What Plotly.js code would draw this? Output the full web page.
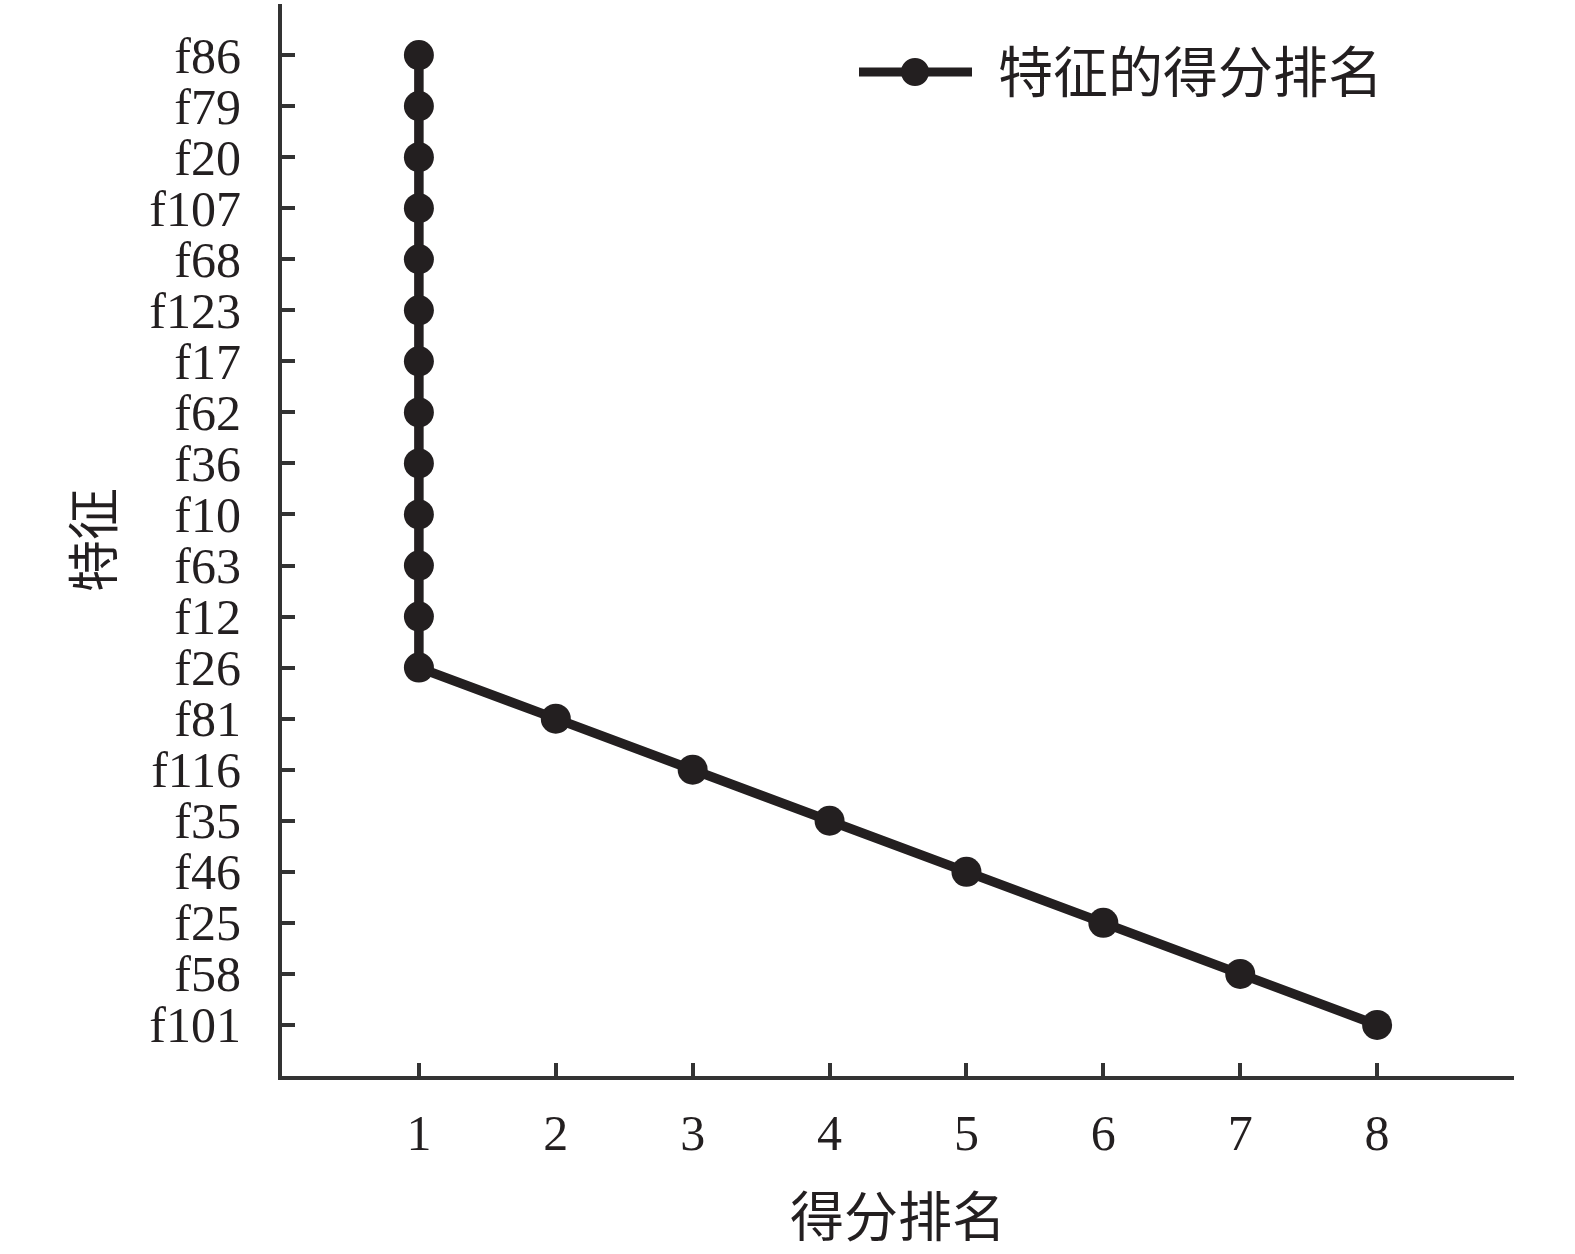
<!DOCTYPE html>
<html>
<head>
<meta charset="utf-8">
<script src="https://cdn.plot.ly/plotly-3.0.1.min.js"></script>
<style>
  html, body { margin: 0; padding: 0; background: #ffffff; }
  #chart { width: 1575px; height: 1254px; }
</style>
</head>
<body>
<div id="chart"></div>
<script>
// Features (top to bottom) and their score rank
const features = ["f86", "f79", "f20", "f107", "f68", "f123", "f17", "f62", "f36", "f10",
                  "f63", "f12", "f26", "f81", "f116", "f35", "f46", "f25", "f58", "f101"];
const ranks = [1, 1, 1, 1, 1, 1, 1, 1, 1, 1, 1, 1, 1, 2, 3, 4, 5, 6, 7, 8];
const xTicks = [1, 2, 3, 4, 5, 6, 7, 8];
const seriesName = "特征的得分排名";
const xTitle = "得分排名";
const yTitle = "特征";

const ink = "#231f20";
const serif = "'Liberation Serif', 'DejaVu Serif', serif";
const cjk = "'Noto Sans CJK SC', 'Noto Sans', sans-serif";

const trace = {
  type: "scatter",
  mode: "lines+markers",
  x: ranks,
  y: features,
  name: seriesName,
  showlegend: false,
  line: { color: ink, width: 9.5 },
  marker: { color: ink, size: 30 },
  cliponaxis: false
};

const L = 282, R = 61;
const W = 1575 - L - R;
const layout = {
  width: 1575,
  height: 1254,
  margin: { l: L, r: R, t: 4, b: 178 },
  paper_bgcolor: "#ffffff",
  plot_bgcolor: "#ffffff",
  showlegend: false,
  xaxis: {
    range: [0, 9],
    tickmode: "array",
    tickvals: xTicks,
    ticktext: xTicks.map(String),
    ticks: "inside",
    ticklen: 13,
    tickwidth: 4,
    tickcolor: "#333333",
    showline: true,
    linewidth: 4,
    linecolor: "#333333",
    showgrid: false,
    zeroline: false,
    ticklabelstandoff: 10,
    tickfont: { family: serif, size: 50, color: ink },
    title: { text: xTitle, font: { family: cjk, size: 54, color: ink }, standoff: 40 }
  },
  yaxis: {
    type: "category",
    categoryorder: "array",
    categoryarray: features,
    range: [20, -1],
    tickmode: "array",
    tickvals: features,
    ticktext: features,
    ticks: "inside",
    ticklen: 13,
    tickwidth: 4,
    tickcolor: "#333333",
    showline: true,
    linewidth: 4,
    linecolor: "#333333",
    showgrid: false,
    zeroline: false,
    ticklabelstandoff: 27,
    tickfont: { family: serif, size: 50, color: ink },
    title: { text: yTitle, font: { family: cjk, size: 52, color: ink }, standoff: 20 }
  },
  shapes: [
    { type: "line", xref: "paper", yref: "paper", x0: (859 - L) / W, x1: (972 - L) / W, y0: 0.9366, y1: 0.9366,
      line: { color: ink, width: 9 } },
    { type: "circle", xref: "paper", yref: "paper", x0: (901 - L) / W, x1: (929 - L) / W, y0: 0.9235, y1: 0.9497,
      fillcolor: ink, line: { color: ink, width: 0 } }
  ],
  annotations: [
    { xref: "paper", yref: "paper", x: (996 - L) / W, y: 0.9366, yshift: 4, xanchor: "left", yanchor: "middle",
      text: seriesName, showarrow: false, font: { family: cjk, size: 55, color: ink } }
  ]
};

Plotly.newPlot("chart", [trace], layout, { displayModeBar: false, staticPlot: true });
</script>
</body>
</html>
